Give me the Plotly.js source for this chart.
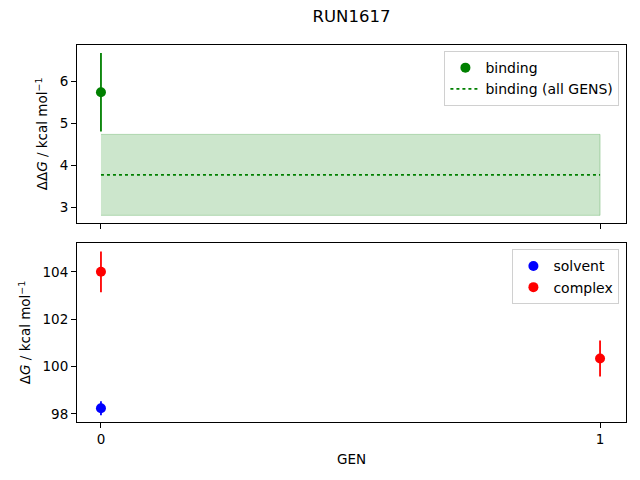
<!DOCTYPE html>
<html>
<head>
<meta charset="utf-8">
<script src="https://cdn.plot.ly/plotly-3.0.1.min.js"></script>
<style>
  html, body { margin: 0; padding: 0; background: #fff; }
  #chart { width: 640px; height: 480px; }
</style>
</head>
<body>
<div id="chart"></div>
<script>
// values
const gens = [0, 1];
const genLabels = ['0', '1'];

const bindingGens = [0];
const bindingValues = [5.74];
const bindingErrors = [0.93];

const bindingAllMean = 3.78;
const bindingAllError = 0.96;

const solventGens = [0];
const solventValues = [98.24];
const solventErrors = [0.3];

const complexGens = [0, 1];
const complexValues = [104.0, 100.34];
const complexErrors = [0.86, 0.76];

const font = 'DejaVu Sans, sans-serif';

function errorBar(arr, color) {
  return { type: 'data', array: arr, visible: true, color: color, thickness: 1.8, width: 0 };
}

const bandX = gens.concat(gens.slice().reverse());
const bandY = gens.map(() => bindingAllMean + bindingAllError)
  .concat(gens.map(() => bindingAllMean - bindingAllError));

const data = [
  {
    x: bandX, y: bandY,
    fill: 'toself', fillcolor: 'rgba(0,128,0,0.2)',
    line: { color: 'rgba(0,128,0,0.25)', width: 1 },
    mode: 'lines', showlegend: false, hoverinfo: 'skip',
    xaxis: 'x', yaxis: 'y'
  },
  {
    x: bindingGens, y: bindingValues, name: 'binding',
    mode: 'markers', marker: { color: 'green', size: 10 },
    error_y: errorBar(bindingErrors, 'green'),
    xaxis: 'x', yaxis: 'y', legend: 'legend'
  },
  {
    x: gens, y: gens.map(() => bindingAllMean), name: 'binding (all GENS)',
    mode: 'lines', line: { color: 'green', dash: 'dot', width: 1.8 },
    xaxis: 'x', yaxis: 'y', legend: 'legend'
  },
  {
    x: solventGens, y: solventValues, name: 'solvent',
    mode: 'markers', marker: { color: 'blue', size: 10 },
    error_y: errorBar(solventErrors, 'blue'),
    xaxis: 'x2', yaxis: 'y2', legend: 'legend2'
  },
  {
    x: complexGens, y: complexValues, name: 'complex',
    mode: 'markers', marker: { color: 'red', size: 10 },
    error_y: errorBar(complexErrors, 'red'),
    xaxis: 'x2', yaxis: 'y2', legend: 'legend2'
  }
];

const axisCommon = {
  showline: true, linecolor: 'black', linewidth: 1, mirror: true,
  ticks: 'outside', ticklen: 5, tickcolor: 'black', tickwidth: 1,
  showgrid: false, zeroline: false,
  tickfont: { family: font, size: 13.5, color: 'black' }
};

const legendCommon = {
  xanchor: 'right', yanchor: 'top',
  bgcolor: 'white', bordercolor: '#d0d0d0', borderwidth: 1,
  font: { family: font, size: 14, color: 'black' },
  tracegroupgap: 0
};

const layout = {
  width: 640, height: 480,
  paper_bgcolor: 'white', plot_bgcolor: 'white',
  margin: { l: 77, r: 14, t: 45, b: 58 },
  showlegend: true,
  title: { text: 'RUN1617', x: 0.5, xref: 'paper', y: 0.967, yanchor: 'middle',
           font: { family: font, size: 16.5, color: 'black' } },
  xaxis: Object.assign({}, axisCommon, {
    domain: [0, 1], anchor: 'y', range: [-0.048, 1.052],
    tickvals: gens, ticktext: genLabels, showticklabels: false, matches: 'x2'
  }),
  yaxis: Object.assign({}, axisCommon, {
    domain: [0.528, 1], anchor: 'x', range: [2.64, 6.86],
    tickvals: [3, 4, 5, 6],
    title: { text: 'ΔΔ<i>G</i> / kcal mol<sup>−1</sup>', standoff: 8,
             font: { family: font, size: 13.5, color: 'black' } }
  }),
  xaxis2: Object.assign({}, axisCommon, {
    domain: [0, 1], anchor: 'y2', range: [-0.048, 1.052],
    tickvals: gens, ticktext: genLabels,
    title: { text: 'GEN', standoff: 8, font: { family: font, size: 13.5, color: 'black' } }
  }),
  yaxis2: Object.assign({}, axisCommon, {
    domain: [0, 0.475], anchor: 'x2', range: [97.66, 105.22],
    tickvals: [98, 100, 102, 104],
    title: { text: 'Δ<i>G</i> / kcal mol<sup>−1</sup>', standoff: 8,
             font: { family: font, size: 13.5, color: 'black' } }
  }),
  legend: Object.assign({}, legendCommon, { x: 0.988, y: 0.984 }),
  legend2: Object.assign({}, legendCommon, { x: 0.988, y: 0.458 })
};

Plotly.newPlot('chart', data, layout, { displayModeBar: false, staticPlot: true });
</script>
</body>
</html>
